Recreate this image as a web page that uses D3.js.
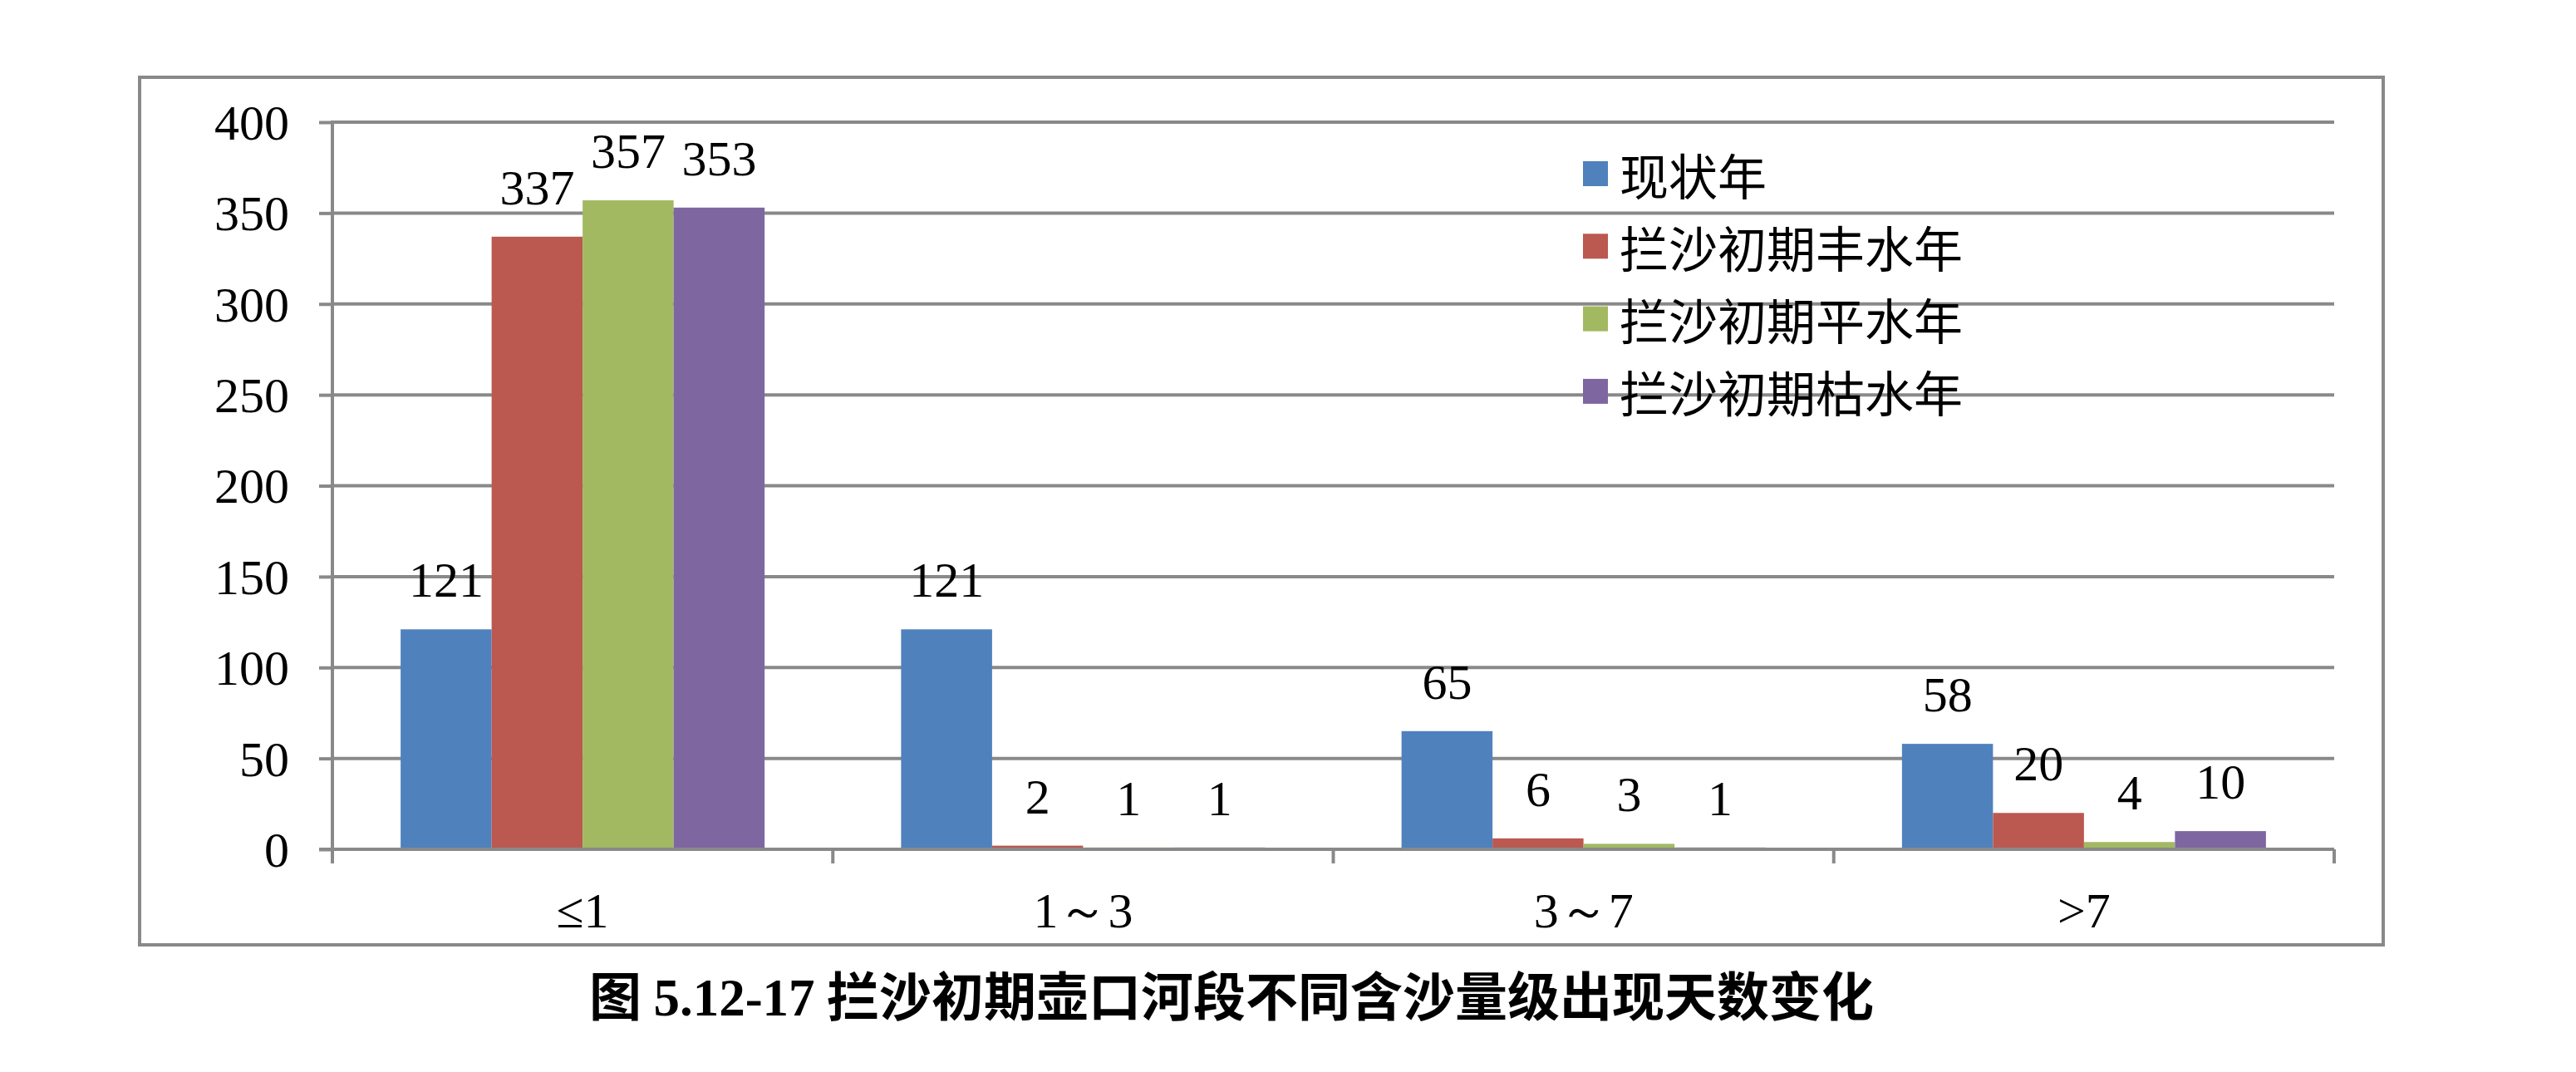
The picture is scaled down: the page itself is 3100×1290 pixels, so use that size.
<!DOCTYPE html>
<html><head><meta charset="utf-8">
<script src="https://cdn.jsdelivr.net/npm/d3@7"></script>
<style>html,body{margin:0;padding:0;background:#fff;} svg{display:block;}</style>
</head><body><svg id="chart" width="3100" height="1290"></svg>
<script>
// ---- data ----
const categories = ["≤1", "1～3", "3～7", ">7"];
const seriesNames = ["现状年", "拦沙初期丰水年", "拦沙初期平水年", "拦沙初期枯水年"];
const currentYear = [121, 121, 65, 58];
const wetYear = [337, 2, 6, 20];
const normalYear = [357, 1, 3, 4];
const dryYear = [353, 1, 1, 10];
const yTicks = [0, 50, 100, 150, 200, 250, 300, 350, 400];
const titlePrefix = "图 ";
const titleNumber = "5.12-17";
const titleText = " 拦沙初期壶口河段不同含沙量级出现天数变化";
const colors = ["#4F81BD", "#BB5850", "#A2B962", "#7E67A0"];

const seriesValues = [currentYear, wetYear, normalYear, dryYear];
const table = categories.map((c, i) => ({
  cat: c,
  vals: seriesNames.map((s, j) => ({ s, j, v: seriesValues[j][i] }))
}));

// ---- layout ----
const svg = d3.select("#chart");
const gridColor = "#898989";
const serif = "'Liberation Serif','Times New Roman',serif";
const cjk = "'Noto Sans CJK SC','Noto Sans',sans-serif";
const plotL = 400, plotR = 2809, plotT = 147, plotB = 1022;

svg.append("rect").attr("x", 0).attr("y", 0).attr("width", 3100).attr("height", 1290).attr("fill", "#fff");

// outer frame
svg.append("rect").attr("x", 168).attr("y", 93).attr("width", 2700).attr("height", 1044)
  .attr("fill", "none").attr("stroke", gridColor).attr("stroke-width", 4);

const x0 = d3.scaleBand().domain(categories).range([plotL, plotR]).paddingInner(0).paddingOuter(0);
const x1 = d3.scaleBand().domain(seriesNames).range([0, x0.bandwidth()]).paddingInner(0).paddingOuter(0.75);
const y = d3.scaleLinear().domain([0, 400]).range([plotB, plotT]);

// gridlines (excluding 0)
svg.append("g").selectAll("line").data(yTicks.filter(t => t !== 0)).join("line")
  .attr("x1", plotL).attr("x2", plotR)
  .attr("y1", d => y(d)).attr("y2", d => y(d))
  .attr("stroke", gridColor).attr("stroke-width", 4);

// bars
const groups = svg.append("g").selectAll("g").data(table).join("g")
  .attr("transform", d => `translate(${x0(d.cat)},0)`);
groups.selectAll("rect").data(d => d.vals).join("rect")
  .attr("x", d => x1(d.s)).attr("width", x1.bandwidth())
  .attr("y", d => y(d.v)).attr("height", d => y(0) - y(d.v))
  .attr("fill", d => colors[d.j]);

// y axis
const yAxis = svg.append("g").attr("transform", `translate(${plotL},0)`)
  .call(d3.axisLeft(y).tickValues(yTicks).tickSize(16).tickPadding(36).tickFormat(d3.format("d")));
yAxis.select(".domain").remove();
yAxis.selectAll(".tick line").attr("stroke", gridColor).attr("stroke-width", 4);
yAxis.selectAll(".tick text").attr("font-family", serif).attr("font-size", 60).attr("fill", "#000")
  .attr("dy", "0.34em");
// vertical axis line
yAxis.append("line").attr("x1", 0).attr("x2", 0).attr("y1", plotT - 2).attr("y2", plotB + 17)
  .attr("stroke", gridColor).attr("stroke-width", 4);

// x axis
const xAxis = svg.append("g").attr("transform", `translate(0,${plotB})`)
  .call(d3.axisBottom(x0).tickSize(0).tickPadding(0));
xAxis.select(".domain").remove();
xAxis.selectAll(".tick text").attr("font-family", serif).attr("font-size", 60).attr("fill", "#000")
  .attr("y", 94).attr("dy", 0);
xAxis.append("line").attr("x1", plotL - 16).attr("x2", plotR).attr("y1", 0).attr("y2", 0)
  .attr("stroke", gridColor).attr("stroke-width", 4);
const bounds = categories.map(c => x0(c)).concat([x0(categories[categories.length - 1]) + x0.bandwidth()]);
xAxis.append("g").selectAll("line").data(bounds).join("line")
  .attr("x1", d => d).attr("x2", d => d).attr("y1", 0).attr("y2", 17)
  .attr("stroke", gridColor).attr("stroke-width", 4);

// data labels
groups.selectAll("text.lbl").data(d => d.vals).join("text").attr("class", "lbl")
  .attr("x", d => x1(d.s) + x1.bandwidth() / 2).attr("y", d => y(d.v) - 39)
  .attr("text-anchor", "middle").attr("font-family", serif).attr("font-size", 60).attr("fill", "#000")
  .text(d => d.v);

// legend
const legend = svg.append("g").attr("transform", "translate(1905,209)");
const li = legend.selectAll("g").data(seriesNames).join("g")
  .attr("transform", (d, i) => `translate(0,${i * 87.3})`);
li.append("rect").attr("x", 0).attr("y", -15).attr("width", 30).attr("height", 30)
  .attr("fill", (d, i) => colors[i]);
li.append("text").attr("x", 44).attr("y", 0).attr("dominant-baseline", "central")
  .attr("font-family", cjk).attr("font-size", 59).attr("fill", "#000").text(d => d);

// title
const t = svg.append("text").attr("x", 1482).attr("y", 1222).attr("text-anchor", "middle")
  .attr("font-weight", "bold").attr("font-size", 63).attr("fill", "#000");
t.append("tspan").attr("font-family", cjk).text(titlePrefix);
t.append("tspan").attr("font-family", serif).text(titleNumber);
t.append("tspan").attr("font-family", cjk).text(titleText);
</script>
</body></html>
